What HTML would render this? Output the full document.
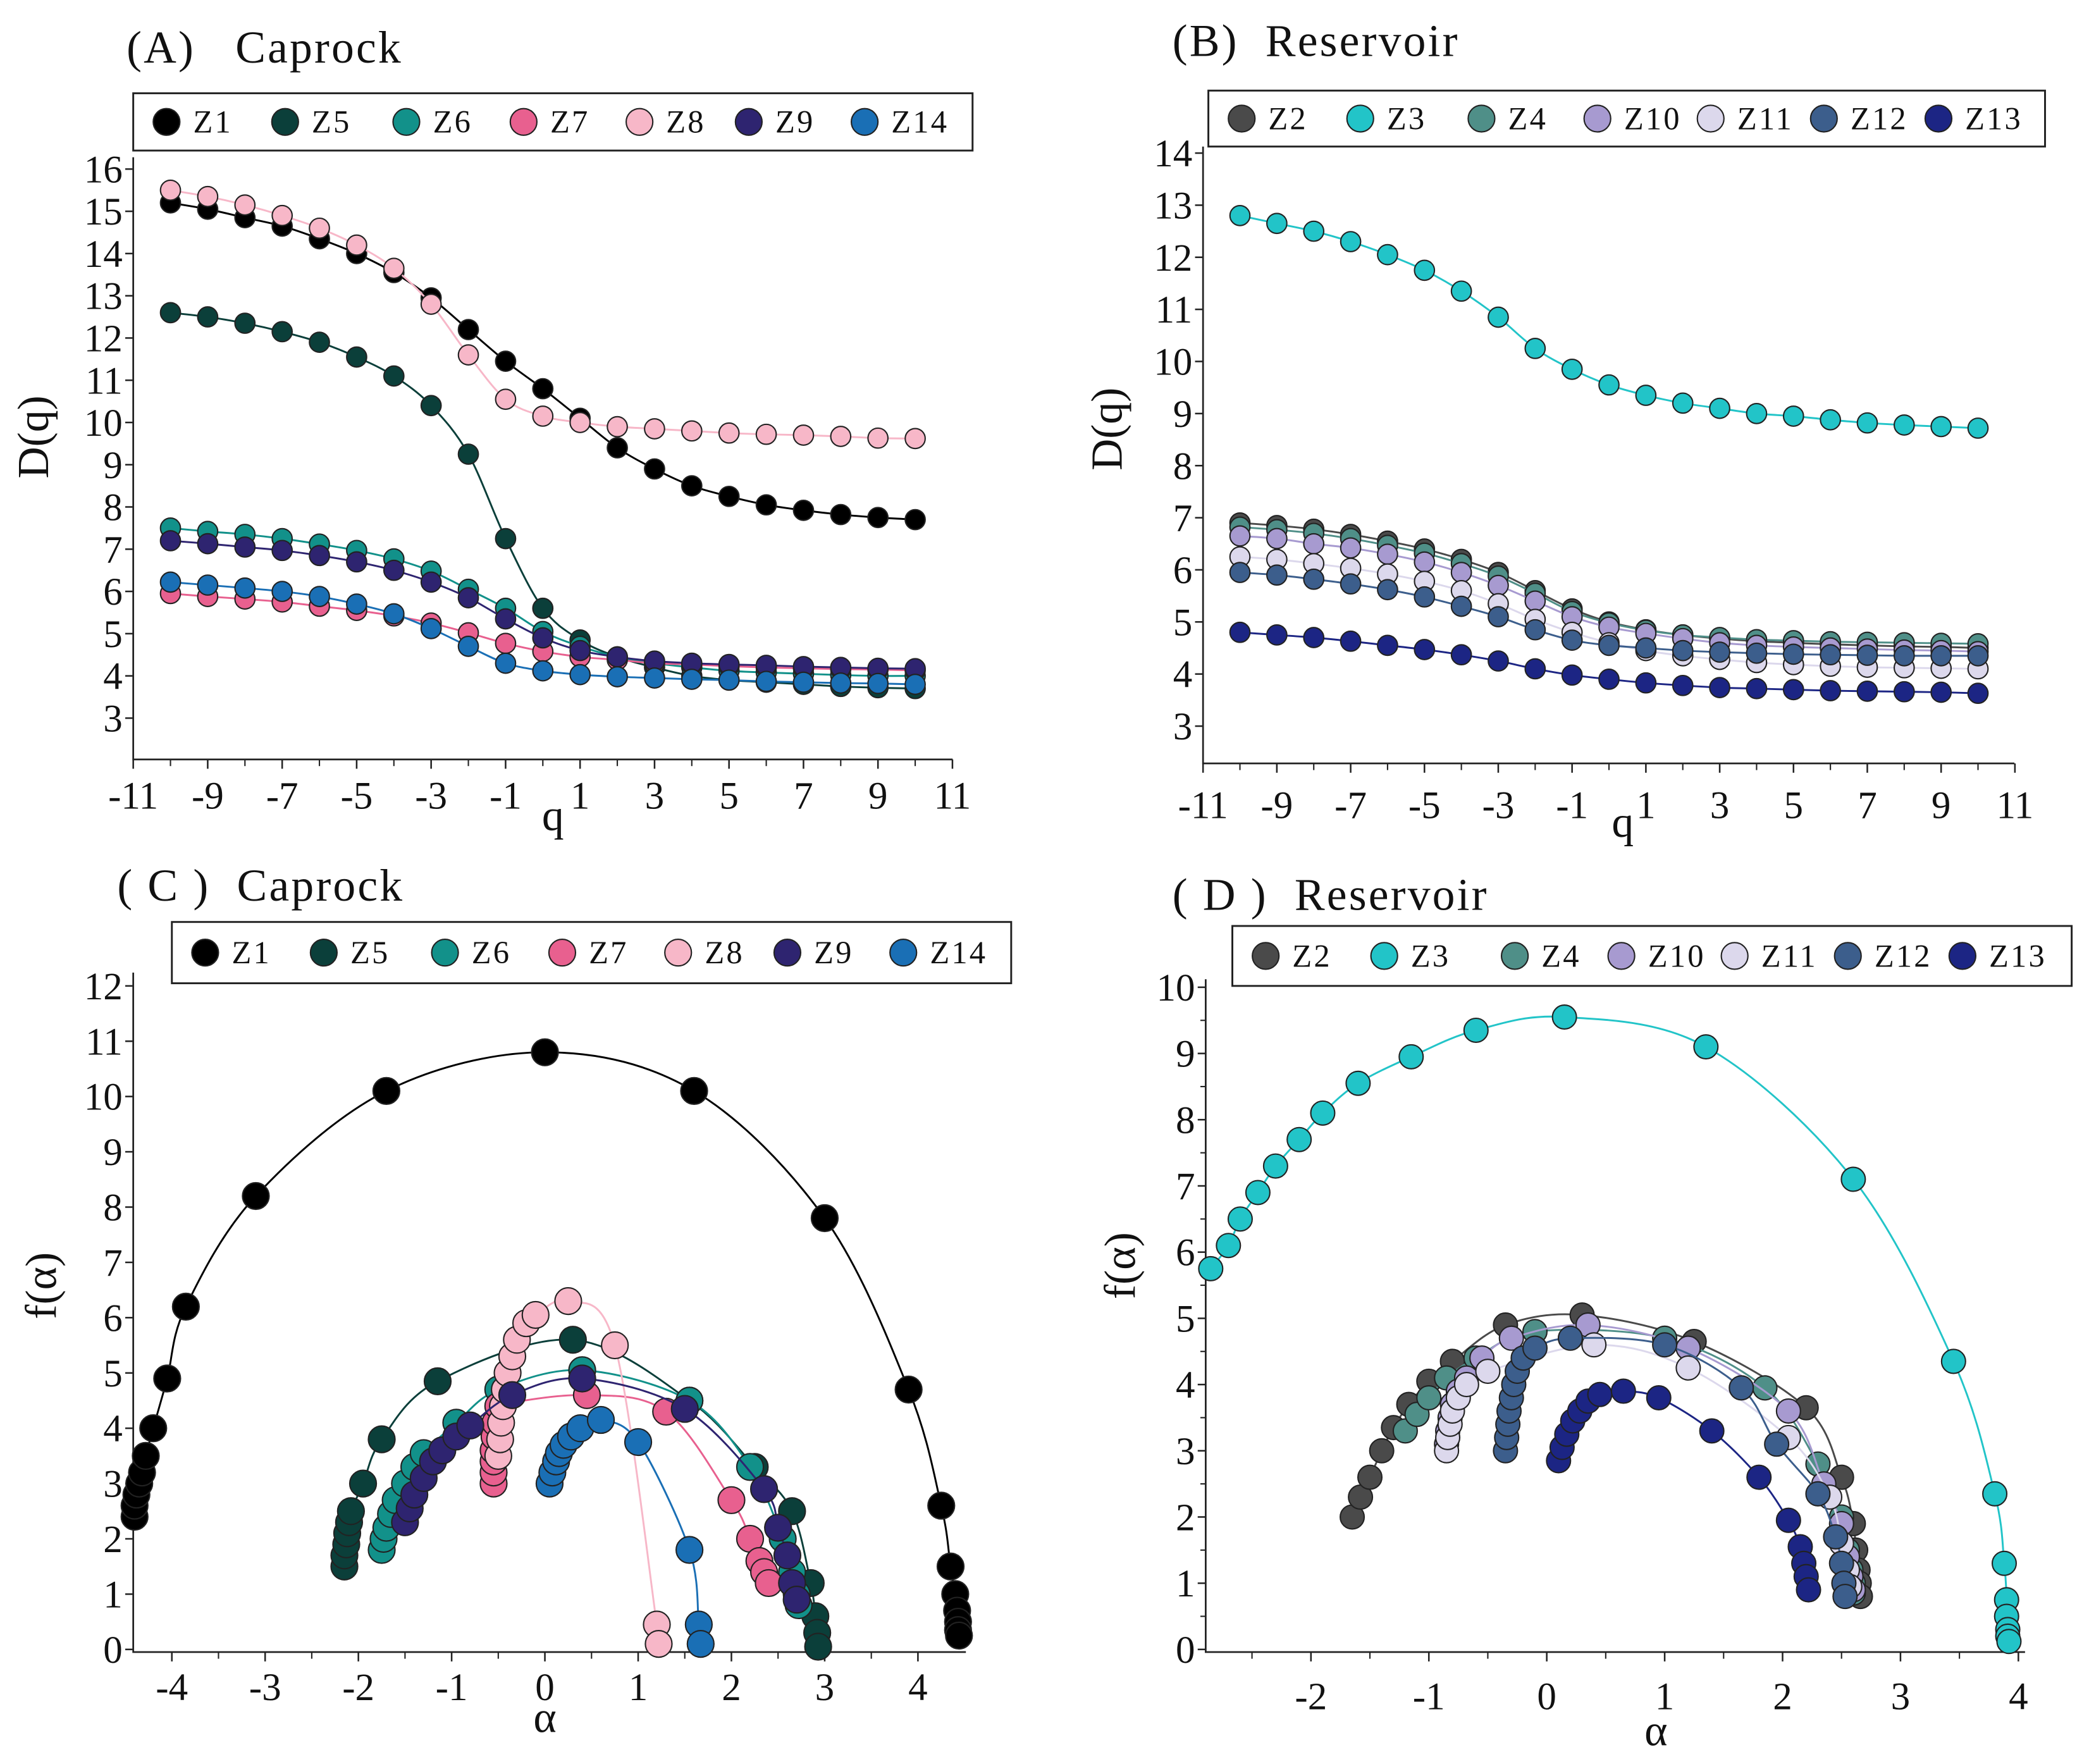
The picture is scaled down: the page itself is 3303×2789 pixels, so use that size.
<!DOCTYPE html>
<html><head><meta charset="utf-8"><style>
html,body{margin:0;padding:0;background:#fff}
svg{display:block}
text{font-family:"Liberation Serif",serif;fill:#111}
</style></head><body>
<svg id="fig" width="3303" height="2789" viewBox="0 0 1568 1324" xmlns="http://www.w3.org/2000/svg">
<rect width="1568" height="1324" fill="#fff"/>
</svg>
<script>
const qVals=[-10,-9,-8,-7,-6,-5,-4,-3,-2,-1,0,1,2,3,4,5,6,7,8,9,10];
const capNames=["Z1","Z5","Z6","Z7","Z8","Z9","Z14"];
const capColors=["#000000","#0b3f3a","#12918a","#e8608f","#f7b7c8","#2e2470","#1a6fb5"];
const A_Z1=[15.2,15.05,14.85,14.65,14.35,14.0,13.55,12.95,12.2,11.45,10.8,10.1,9.4,8.9,8.5,8.25,8.05,7.92,7.82,7.75,7.7];
const A_Z5=[12.6,12.5,12.35,12.15,11.9,11.55,11.1,10.4,9.25,7.25,5.6,4.85,4.45,4.2,4.0,3.9,3.85,3.8,3.75,3.72,3.7];
const A_Z6=[7.5,7.42,7.35,7.25,7.12,6.97,6.77,6.48,6.05,5.6,5.05,4.7,4.45,4.3,4.2,4.12,4.08,4.05,4.02,4.0,4.0];
const A_Z7=[5.95,5.88,5.82,5.75,5.65,5.55,5.42,5.25,5.02,4.77,4.58,4.45,4.38,4.3,4.27,4.23,4.2,4.18,4.16,4.15,4.13];
const A_Z8=[15.5,15.35,15.15,14.9,14.6,14.2,13.65,12.8,11.6,10.55,10.15,10.0,9.9,9.85,9.8,9.75,9.72,9.7,9.67,9.63,9.62];
const A_Z9=[7.2,7.13,7.05,6.97,6.85,6.7,6.5,6.22,5.85,5.35,4.9,4.6,4.45,4.35,4.3,4.27,4.25,4.22,4.2,4.18,4.17];
const A_Z14=[6.22,6.15,6.08,6.0,5.88,5.7,5.47,5.12,4.7,4.3,4.12,4.03,3.98,3.95,3.92,3.9,3.87,3.85,3.83,3.82,3.8];
const resNames=["Z2","Z3","Z4","Z10","Z11","Z12","Z13"];
const resColors=["#4a4a4a","#22c4c8","#4f8f88","#a79ad0","#dcd8ec","#3c5e8c","#1c2584"];
const B_Z2=[6.9,6.85,6.78,6.68,6.55,6.4,6.2,5.95,5.6,5.25,5.0,4.85,4.75,4.68,4.63,4.6,4.57,4.55,4.53,4.52,4.5];
const B_Z3=[12.8,12.65,12.5,12.3,12.05,11.75,11.35,10.85,10.25,9.85,9.55,9.35,9.2,9.1,9.0,8.95,8.88,8.82,8.78,8.75,8.72];
const B_Z4=[6.82,6.77,6.7,6.6,6.47,6.32,6.12,5.88,5.55,5.2,4.98,4.84,4.75,4.7,4.66,4.64,4.62,4.61,4.6,4.59,4.58];
const B_Z10=[6.65,6.6,6.5,6.42,6.3,6.15,5.95,5.7,5.4,5.1,4.9,4.78,4.68,4.6,4.55,4.52,4.5,4.48,4.46,4.45,4.43];
const B_Z11=[6.25,6.2,6.12,6.03,5.92,5.78,5.6,5.35,5.05,4.8,4.6,4.45,4.35,4.28,4.22,4.18,4.15,4.13,4.12,4.11,4.1];
const B_Z12=[5.95,5.9,5.82,5.73,5.62,5.48,5.3,5.1,4.85,4.65,4.55,4.5,4.45,4.42,4.4,4.38,4.37,4.36,4.35,4.35,4.35];
const B_Z13=[4.8,4.75,4.7,4.63,4.55,4.47,4.37,4.25,4.1,3.98,3.9,3.83,3.78,3.74,3.72,3.7,3.68,3.67,3.66,3.65,3.63];
const C_Z1_a=[-4.4,-4.4,-4.38,-4.35,-4.32,-4.28,-4.2,-4.05,-3.85,-3.1,-1.7,0,1.6,3.0,3.9,4.25,4.35,4.4,4.42,4.43,4.43,4.44];
const C_Z1_f=[2.4,2.6,2.8,3.0,3.2,3.5,4.0,4.9,6.2,8.2,10.1,10.8,10.1,7.8,4.7,2.6,1.5,1.0,0.7,0.5,0.35,0.25];
const C_Z5_a=[-2.15,-2.15,-2.13,-2.12,-2.1,-2.08,-1.95,-1.75,-1.15,0.3,1.55,2.25,2.65,2.85,2.9,2.92,2.93];
const C_Z5_f=[1.5,1.7,1.9,2.1,2.3,2.5,3.0,3.8,4.85,5.6,4.5,3.3,2.5,1.2,0.6,0.3,0.05];
const C_Z6_a=[-1.75,-1.73,-1.7,-1.65,-1.6,-1.5,-1.4,-1.3,-0.95,-0.5,0.4,1.55,2.2,2.55,2.65,2.7,2.72];
const C_Z6_f=[1.8,2.0,2.2,2.45,2.7,3.0,3.3,3.55,4.1,4.7,5.05,4.5,3.3,2.0,1.4,1.0,0.8];
const C_Z7_a=[-0.55,-0.55,-0.55,-0.55,-0.54,-0.53,-0.5,0.45,1.3,2.0,2.2,2.3,2.35,2.4];
const C_Z7_f=[3.0,3.2,3.4,3.6,3.85,4.1,4.4,4.6,4.3,2.7,2.0,1.6,1.4,1.2];
const C_Z8_a=[-0.5,-0.48,-0.47,-0.45,-0.43,-0.4,-0.35,-0.3,-0.2,-0.1,0.25,0.75,1.2,1.22];
const C_Z8_f=[3.5,3.8,4.1,4.4,4.7,5.0,5.3,5.6,5.9,6.05,6.3,5.5,0.45,0.1];
const C_Z9_a=[-1.5,-1.45,-1.4,-1.3,-1.2,-1.1,-0.95,-0.8,-0.35,0.4,1.5,2.35,2.5,2.6,2.65,2.7];
const C_Z9_f=[2.3,2.55,2.8,3.1,3.4,3.6,3.85,4.05,4.6,4.9,4.35,2.9,2.2,1.7,1.2,0.9];
const C_Z14_a=[0.05,0.08,0.12,0.15,0.2,0.28,0.38,0.6,1.0,1.55,1.65,1.67];
const C_Z14_f=[3.0,3.2,3.4,3.55,3.7,3.85,4.0,4.15,3.75,1.8,0.45,0.1];
const D_Z2_a=[-1.65,-1.58,-1.5,-1.4,-1.3,-1.17,-1.0,-0.8,-0.35,0.3,1.25,2.2,2.5,2.6,2.62,2.64,2.65,2.66];
const D_Z2_f=[2.0,2.3,2.6,3.0,3.35,3.7,4.05,4.35,4.9,5.05,4.65,3.65,2.6,1.9,1.5,1.2,1.0,0.8];
const D_Z3_a=[-2.85,-2.7,-2.6,-2.45,-2.3,-2.1,-1.9,-1.6,-1.15,-0.6,0.15,1.35,2.6,3.45,3.8,3.88,3.9,3.9,3.91,3.91,3.92];
const D_Z3_f=[5.75,6.1,6.5,6.9,7.3,7.7,8.1,8.55,8.95,9.35,9.55,9.1,7.1,4.35,2.35,1.3,0.75,0.5,0.3,0.2,0.12];
const D_Z4_a=[-1.2,-1.1,-1.0,-0.85,-0.6,-0.1,1.0,1.85,2.3,2.5,2.55,2.58,2.6,2.6];
const D_Z4_f=[3.3,3.55,3.8,4.1,4.4,4.8,4.7,3.95,2.8,2.0,1.5,1.2,1.0,0.85];
const D_Z10_a=[-0.85,-0.84,-0.82,-0.8,-0.75,-0.68,-0.55,-0.3,0.35,1.2,2.05,2.35,2.5,2.55,2.58,2.6];
const D_Z10_f=[3.1,3.3,3.5,3.7,3.9,4.1,4.4,4.7,4.9,4.55,3.6,2.5,1.9,1.4,1.1,0.9];
const D_Z11_a=[-0.85,-0.84,-0.82,-0.8,-0.75,-0.68,-0.5,0.4,1.2,2.05,2.4,2.5,2.55,2.57];
const D_Z11_f=[3.0,3.2,3.4,3.6,3.8,4.0,4.2,4.6,4.25,3.2,2.3,1.6,1.2,0.95];
const D_Z12_a=[-0.35,-0.34,-0.33,-0.32,-0.3,-0.28,-0.25,-0.2,-0.1,0.2,1.0,1.65,1.95,2.3,2.45,2.5,2.52,2.53];
const D_Z12_f=[3.0,3.2,3.4,3.6,3.8,4.0,4.2,4.4,4.55,4.7,4.6,3.95,3.1,2.35,1.7,1.3,1.0,0.8];
const D_Z13_a=[0.1,0.13,0.17,0.22,0.28,0.35,0.45,0.65,0.95,1.4,1.8,2.05,2.15,2.18,2.2,2.22];
const D_Z13_f=[2.85,3.05,3.25,3.45,3.6,3.75,3.85,3.9,3.8,3.3,2.6,1.95,1.55,1.3,1.1,0.9];

const NS="http://www.w3.org/2000/svg";
const svg=document.getElementById('fig');
function mk(tag,attrs,parent){const e=document.createElementNS(NS,tag);for(const k in attrs)e.setAttribute(k,attrs[k]);(parent||svg).appendChild(e);return e;}
function txt(s,x,y,size,anchor,parent){const t=mk('text',{x:x,y:y,'font-size':size,'text-anchor':anchor||'middle'},parent);t.textContent=s;return t;}
function smooth(pts){
  if(pts.length<2)return '';
  let d='M'+pts[0][0]+','+pts[0][1];
  for(let i=0;i<pts.length-1;i++){
    const p0=pts[Math.max(0,i-1)],p1=pts[i],p2=pts[i+1],p3=pts[Math.min(pts.length-1,i+2)];
    const c1x=p1[0]+(p2[0]-p0[0])/6,c1y=p1[1]+(p2[1]-p0[1])/6,c2x=p2[0]-(p3[0]-p1[0])/6,c2y=p2[1]-(p3[1]-p1[1])/6;
    d+=' C'+c1x+','+c1y+' '+c2x+','+c2y+' '+p2[0]+','+p2[1];
  }
  return d;
}
function panel(cfg){
  const g=mk('g',{});
  
  
  const X=v=>cfg.x0+(v-cfg.xmin)*cfg.xs, Y=v=>cfg.y0-(v-cfg.ymin)*cfg.ys;
  const t=txt(cfg.title,cfg.tx,cfg.ty,34,'start',g);
  
  t.setAttribute('letter-spacing','1.5');t.style.whiteSpace='pre';
  const ax=mk('path',{d:`M${cfg.axL},${cfg.yTop} L${cfg.axL},${cfg.axB} L${cfg.axR},${cfg.axB}`,stroke:'#222','stroke-width':1.3,fill:'none'},g);
  
  cfg.yt.forEach(v=>{const y=Y(v);mk('line',{x1:cfg.axL-6,y1:y,x2:cfg.axL,y2:y,stroke:'#222','stroke-width':1.2},g);
    const l=txt(String(v),cfg.axL-8,y+10,29,'end',g);});
  (cfg.yminor||[]).forEach(v=>{const y=Y(v);mk('line',{x1:cfg.axL-4,y1:y,x2:cfg.axL,y2:y,stroke:'#222','stroke-width':1},g);});
  cfg.xt.forEach(v=>{const x=X(v);mk('line',{x1:x,y1:cfg.axB,x2:x,y2:cfg.axB+7,stroke:'#222','stroke-width':1.2},g);
    const l=txt(String(v),x,cfg.axB+cfg.xly,29,'middle',g);});
  (cfg.xminor||[]).forEach(v=>{const x=X(v);mk('line',{x1:x,y1:cfg.axB,x2:x,y2:cfg.axB+5,stroke:'#222','stroke-width':1},g);});
  const xl=txt(cfg.xlabel,cfg.xlx,cfg.xlyy,33,'middle',g);
  const yl=txt(cfg.ylabel,0,0,33,'middle',g);yl.setAttribute('transform',`translate(${cfg.ylx},${cfg.yly}) rotate(-90)`);
  
  cfg.series.forEach(s=>{
    const sg=mk('g',{},g);
    
    const pts=s.a.map((a,i)=>[X(a),Y(s.f[i])]);
    const p=mk('path',{d:smooth(pts),stroke:s.c,'stroke-width':1.4,fill:'none'},sg);
    
    pts.forEach(pt=>{const c=mk('circle',{cx:pt[0],cy:pt[1],r:cfg.r,fill:s.c,stroke:'#222','stroke-width':1},sg);
      });
  });
  const lg=mk('g',{},g);
  mk('rect',{x:cfg.lx,y:cfg.ly,width:cfg.lw,height:cfg.lh,fill:'#fff',stroke:'#222','stroke-width':1.4},lg);
  cfg.series.forEach((s,i)=>{const e=mk('g',{},lg);
    
    const cx=cfg.lx+cfg.lpos[i];const cy=cfg.ly+cfg.lh/2;
    mk('circle',{cx:cx,cy:cy,r:10,fill:s.c,stroke:'#222','stroke-width':1},e);
    const tt=txt(s.n,cx+20,cy+8,24,'start',e);tt.setAttribute('letter-spacing','1.5');});
}
panel({name:'panel-a-caprock-dq',title:'(A)   Caprock',tx:95,ty:47,x0:100,xmin:-11,xs:27.95,y0:539,ymin:3,ys:31.7,axL:100,axR:715,axB:570,yTop:118,
  yt:[3,4,5,6,7,8,9,10,11,12,13,14,15,16],xt:[-11,-9,-7,-5,-3,-1,1,3,5,7,9,11],xminor:[-10,-8,-6,-4,-2,0,2,4,6,8,10],xly:37,
  xlabel:'q',xlx:415,xlyy:623,ylabel:'D(q)',ylx:36,yly:328,r:7.5,
  lx:100,ly:70,lw:630,lh:43,lpos:[25,114,205,293,380,462,549],
  series:[A_Z1,A_Z5,A_Z6,A_Z7,A_Z8,A_Z9,A_Z14].map((d,i)=>({n:capNames[i],c:capColors[i],a:qVals,f:d}))});
panel({name:'panel-b-reservoir-dq',title:'(B)  Reservoir',tx:880,ty:42,x0:903,xmin:-11,xs:27.7,y0:545,ymin:3,ys:39.1,axL:903,axR:1512,axB:573,yTop:110,
  yt:[3,4,5,6,7,8,9,10,11,12,13,14],xt:[-11,-9,-7,-5,-3,-1,1,3,5,7,9,11],xminor:[-10,-8,-6,-4,-2,0,2,4,6,8,10],xly:41,
  xlabel:'q',xlx:1218,xlyy:628,ylabel:'D(q)',ylx:842,yly:322,r:7.5,
  lx:907,ly:68,lw:628,lh:42,lpos:[25,114,205,292,377,462,548],
  series:[B_Z2,B_Z3,B_Z4,B_Z10,B_Z11,B_Z12,B_Z13].map((d,i)=>({n:resNames[i],c:resColors[i],a:qVals,f:d}))});
panel({name:'panel-c-caprock-falpha',title:'( C )  Caprock',tx:88,ty:676,x0:409,xmin:0,xs:70,y0:1238,ymin:0,ys:41.5,axL:100,axR:725,axB:1240,yTop:730,
  yt:[0,1,2,3,4,5,6,7,8,9,10,11,12],xt:[-4,-3,-2,-1,0,1,2,3,4],xminor:[-3.5,-2.5,-1.5,-0.5,0.5,1.5,2.5,3.5],xly:36,
  xlabel:'α',xlx:409,xlyy:1300,ylabel:'f(α)',ylx:42,yly:965,r:10,
  lx:129,ly:692,lw:630,lh:46,lpos:[25,114,205,293,380,462,549],
  series:[[C_Z1_a,C_Z1_f],[C_Z5_a,C_Z5_f],[C_Z6_a,C_Z6_f],[C_Z7_a,C_Z7_f],[C_Z8_a,C_Z8_f],[C_Z9_a,C_Z9_f],[C_Z14_a,C_Z14_f]].map((d,i)=>({n:capNames[i],c:capColors[i],a:d[0],f:d[1]}))});
panel({name:'panel-d-reservoir-falpha',title:'( D )  Reservoir',tx:880,ty:683,x0:1161,xmin:0,xs:88.5,y0:1238,ymin:0,ys:49.7,axL:905,axR:1520,axB:1240,yTop:735,
  yt:[0,1,2,3,4,5,6,7,8,9,10],yminor:[0.5,1.5,2.5,3.5,4.5,5.5,6.5,7.5,8.5,9.5],xt:[-2,-1,0,1,2,3,4],xminor:[-2.5,-1.5,-0.5,0.5,1.5,2.5,3.5],xly:43,
  xlabel:'α',xlx:1243,xlyy:1310,ylabel:'f(α)',ylx:852,yly:950,r:9,
  lx:925,ly:695,lw:630,lh:45,lpos:[25,114,212,292,377,462,548],
  series:[[D_Z2_a,D_Z2_f],[D_Z3_a,D_Z3_f],[D_Z4_a,D_Z4_f],[D_Z10_a,D_Z10_f],[D_Z11_a,D_Z11_f],[D_Z12_a,D_Z12_f],[D_Z13_a,D_Z13_f]].map((d,i)=>({n:resNames[i],c:resColors[i],a:d[0],f:d[1]}))});
</script>
</body></html>
